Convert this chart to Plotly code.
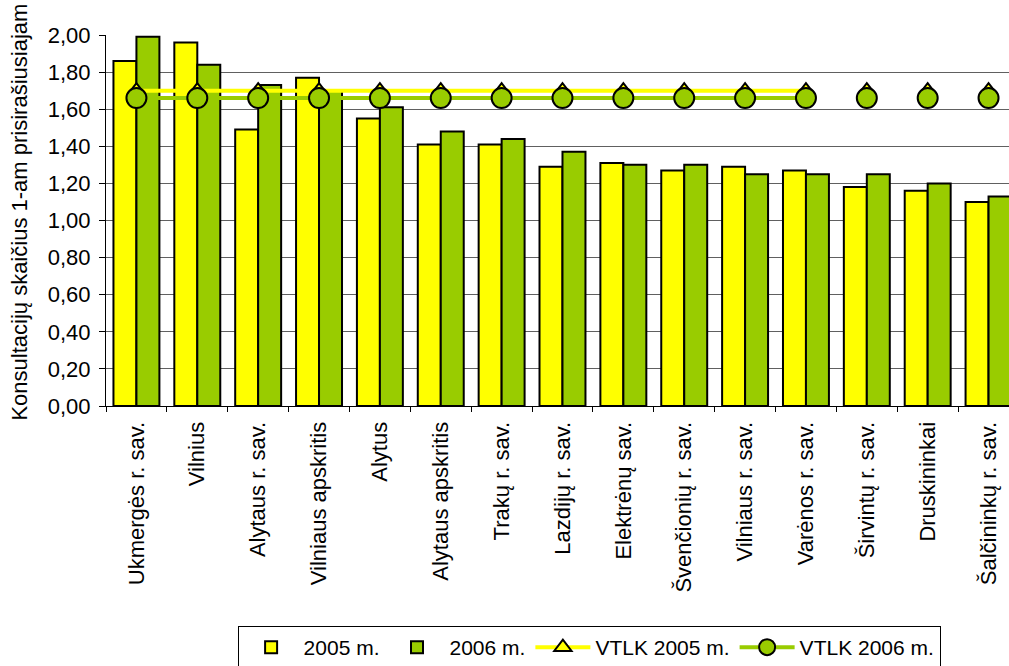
import plotly.graph_objects as go

categories = ["Ukmergės r. sav.", "Vilnius", "Alytaus r. sav.", "Vilniaus apskritis",
              "Alytus", "Alytaus apskritis", "Trakų r. sav.", "Lazdijų r. sav.",
              "Elektrėnų sav.", "Švenčionių r. sav.", "Vilniaus r. sav.", "Varėnos r. sav.",
              "Širvintų r. sav.", "Druskininkai", "Šalčininkų r. sav."]
y2005 = [1.86, 1.96, 1.49, 1.77, 1.55, 1.41, 1.41, 1.29, 1.31, 1.27, 1.29, 1.27, 1.18, 1.16, 1.10]
y2006 = [1.99, 1.84, 1.73, 1.70, 1.61, 1.48, 1.44, 1.37, 1.30, 1.30, 1.25, 1.25, 1.25, 1.20, 1.13]
vtlk2005 = [1.70, 1.70, 1.70, 1.70, 1.70, 1.70, 1.70, 1.70, 1.70, 1.70, 1.70, 1.70, 1.70, 1.70, 1.70]
vtlk2006 = [1.66, 1.66, 1.66, 1.66, 1.66, 1.66, 1.66, 1.66, 1.66, 1.66, 1.66, 1.66, 1.66, 1.66, 1.66]
line_points = 12  # the reference joins only the first 12 points with a line
y_title = "Konsultacijų skaičius 1-am prisirašiusiajam"

FONT = "Arial, Liberation Sans, sans-serif"
YEL = "#FFFF00"
GRN = "#99CC00"

fig = go.Figure()
fig.add_trace(go.Bar(x=categories, y=y2005, name="2005 m.",
                     marker=dict(color=YEL, line=dict(color="black", width=2))))
fig.add_trace(go.Bar(x=categories, y=y2006, name="2006 m.",
                     marker=dict(color=GRN, line=dict(color="black", width=2))))

tri = dict(symbol="triangle-up", size=15, color=YEL, line=dict(color="black", width=2))
circ = dict(symbol="circle", size=20, color=GRN, line=dict(color="black", width=2))

fig.add_trace(go.Scatter(x=categories[:line_points], y=vtlk2005[:line_points], name="VTLK 2005 m.",
                         mode="lines+markers", legendgroup="v5",
                         line=dict(color=YEL, width=4), marker=tri))
fig.add_trace(go.Scatter(x=categories[line_points:], y=vtlk2005[line_points:], name="VTLK 2005 m.",
                         mode="markers", legendgroup="v5", showlegend=False, marker=tri))
fig.add_trace(go.Scatter(x=categories[:line_points], y=vtlk2006[:line_points], name="VTLK 2006 m.",
                         mode="lines+markers", legendgroup="v6",
                         line=dict(color=GRN, width=4), marker=circ))
fig.add_trace(go.Scatter(x=categories[line_points:], y=vtlk2006[line_points:], name="VTLK 2006 m.",
                         mode="markers", legendgroup="v6", showlegend=False, marker=circ))

fig.update_layout(
    width=1009, height=666,
    margin=dict(l=106, r=0, t=35, b=260, autoexpand=False),
    paper_bgcolor="white", plot_bgcolor="white",
    font=dict(family=FONT, size=22, color="black"),
    separators=", ",
    barmode="group", bargap=0.245, bargroupgap=0,
    showlegend=True,
    legend=dict(orientation="h", x=0.535, xanchor="center", y=-0.593, yanchor="top",
                bordercolor="black", borderwidth=1, font=dict(size=21),
                traceorder="normal", itemwidth=55),
    xaxis=dict(range=[-0.5, 14.336], tickangle=-90, showline=True, linecolor="black",
               linewidth=1, ticks="outside", ticklen=5, tickcolor="black",
               tickson="boundaries", showgrid=False, tickfont=dict(size=22),
               ticklabelstandoff=6, automargin=False),
    yaxis=dict(range=[0, 2.0], dtick=0.2, tickformat=".2f", showline=True,
               linecolor="black", linewidth=1, ticks="outside", ticklen=6,
               tickcolor="black", showgrid=True, gridcolor="#606060", gridwidth=1,
               zeroline=False, tickfont=dict(size=22), ticklabelstandoff=4,
               automargin=False),
    annotations=[dict(text=y_title, textangle=-90, xref="paper", yref="paper",
                      x=-0.0952, xanchor="center", y=-0.046, yanchor="bottom",
                      showarrow=False, font=dict(size=22))],
)

fig.write_html("out.html")
